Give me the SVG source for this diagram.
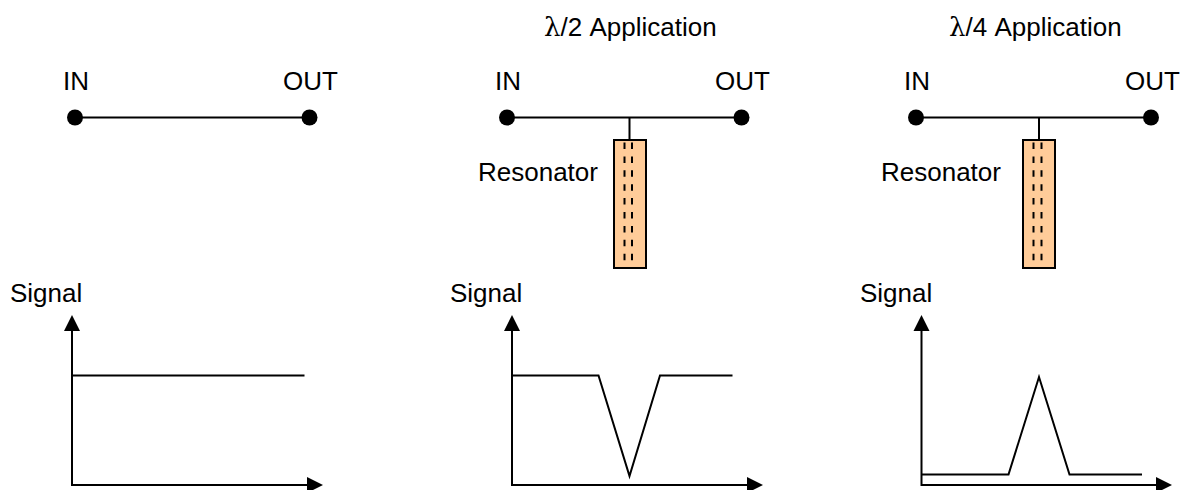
<svg xmlns="http://www.w3.org/2000/svg" width="1180" height="490" viewBox="0 0 1180 490">
<style>
text{font-family:"Liberation Sans",Arial,sans-serif;font-size:26px;fill:#000}
.l{fill:none;stroke:#000;stroke-width:2}
.d{fill:none;stroke:#000;stroke-width:2;stroke-dasharray:6.5 7.4}
.r{fill:#FFCC99;stroke:#000;stroke-width:2}
.a{fill:#000;stroke:none}
</style>
<rect width="1180" height="490" fill="#fff"/>
<g id="connectors">
<path class="l" d="M75 117.5H309.5"/>
<path class="l" d="M507 117.5H741M629.5 117.5V140"/>
<path class="l" d="M916 117.5H1151M1039 117.5V140"/>
<path class="l" d="M72 328V485H308"/>
<path class="l" d="M72 375.5H304.5"/>
<path class="l" d="M512 328V485H748"/>
<path class="l" d="M512 375.5H598.5L629.5 476L660 375.5H732.5"/>
<path class="l" d="M921.5 328V485H1157"/>
<path class="l" d="M921.5 474.5H1008.5L1039 377L1069.5 474.5H1142"/>
</g>
<g id="p1-in"><circle class="a" cx="75" cy="117.5" r="8"/><text x="63" y="90">IN</text></g>
<g id="p1-out"><circle class="a" cx="309.5" cy="117.5" r="8"/><text x="283" y="90">OUT</text></g>
<g id="p2-title"><text x="544" y="36"><tspan font-family="'DejaVu Serif',serif">λ</tspan>/2 Application</text></g>
<g id="p2-in"><circle class="a" cx="507" cy="117.5" r="8"/><text x="495" y="90">IN</text></g>
<g id="p2-out"><circle class="a" cx="741.5" cy="117.5" r="8"/><text x="715" y="90">OUT</text></g>
<g id="p2-resonator"><rect class="r" x="614" y="140" width="32" height="128"/><path class="d" d="M624.5 142.5V263M632 142.5V263"/><text x="478" y="181">Resonator</text></g>
<g id="p3-title"><text x="949" y="36"><tspan font-family="'DejaVu Serif',serif">λ</tspan>/4 Application</text></g>
<g id="p3-in"><circle class="a" cx="916" cy="117.5" r="8"/><text x="904" y="90">IN</text></g>
<g id="p3-out"><circle class="a" cx="1151" cy="117.5" r="8"/><text x="1125" y="90">OUT</text></g>
<g id="p3-resonator"><rect class="r" x="1023" y="140" width="32" height="128"/><path class="d" d="M1033.5 142.5V263M1041.5 142.5V263"/><text x="881" y="181">Resonator</text></g>
<g id="plot1"><text x="10" y="302">Signal</text><path class="a" d="M72 315L80 331H64ZM323 485L307 477V493Z"/></g>
<g id="plot2"><text x="450" y="302">Signal</text><path class="a" d="M512 315L520 331H504ZM763 485L747 477V493Z"/></g>
<g id="plot3"><text x="860" y="302">Signal</text><path class="a" d="M921.5 315L929.5 331H913.5ZM1172 485L1156 477V493Z"/></g>
</svg>
